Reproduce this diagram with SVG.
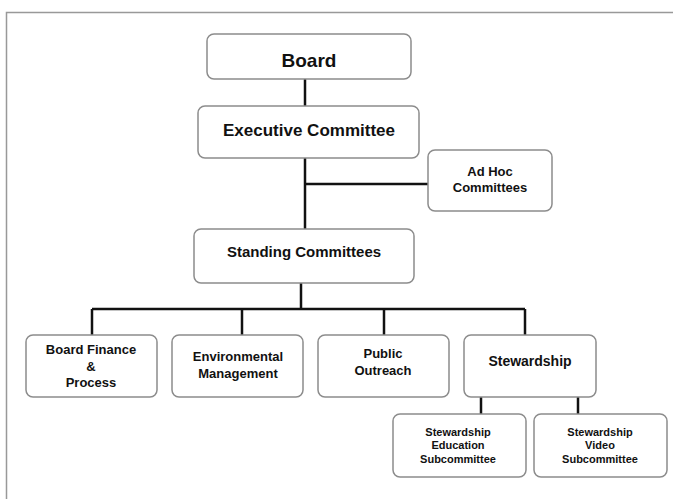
<svg xmlns="http://www.w3.org/2000/svg" width="673" height="499" viewBox="0 0 673 499">
<style>
.box{fill:#fff;stroke:#8c8c8c;stroke-width:1.5}
.t{font-family:"Liberation Sans",Arial,sans-serif;font-weight:bold;fill:#111;text-anchor:middle}
.c{stroke:#111;stroke-width:2.5;fill:none}
</style>
<rect width="673" height="499" fill="#fff"/>
<path d="M6.5 499 V12.5 H673" fill="none" stroke="#999" stroke-width="1.5"/>
<g id="connectors">
<path class="c" d="M305 79 V106"/>
<path class="c" d="M305 158 V229"/>
<path class="c" d="M305 184 H428"/>
<path class="c" d="M301 283 V309"/>
<path class="c" d="M92 309 H525"/>
<path class="c" d="M92 309 V335"/>
<path class="c" d="M242 309 V335"/>
<path class="c" d="M384 309 V335"/>
<path class="c" d="M525 309 V335"/>
<path class="c" d="M481 397 V414"/>
<path class="c" d="M578 397 V414"/>
</g>
<g id="board"><rect class="box" x="207" y="34" width="204" height="45" rx="7"/><text class="t" x="309" y="67" font-size="19">Board</text></g>
<g id="executive"><rect class="box" x="198" y="106" width="221" height="52" rx="7"/><text class="t" x="309" y="136" font-size="17">Executive Committee</text></g>
<g id="adhoc"><rect class="box" x="428" y="150" width="124" height="61" rx="7"/><text class="t" x="490" y="176" font-size="13">Ad Hoc</text><text class="t" x="490" y="192" font-size="13">Committees</text></g>
<g id="standing"><rect class="box" x="194" y="229" width="220" height="54" rx="7"/><text class="t" x="304" y="257" font-size="15">Standing Committees</text></g>
<g id="finance"><rect class="box" x="26" y="335" width="131" height="62" rx="7"/><text class="t" x="91" y="354" font-size="13">Board Finance</text><text class="t" x="91" y="371" font-size="13">&amp;</text><text class="t" x="91" y="387" font-size="13">Process</text></g>
<g id="environmental"><rect class="box" x="172" y="335" width="131" height="62" rx="7"/><text class="t" x="238" y="361" font-size="13">Environmental</text><text class="t" x="238" y="378" font-size="13">Management</text></g>
<g id="public"><rect class="box" x="318" y="335" width="131" height="62" rx="7"/><text class="t" x="383" y="358" font-size="13">Public</text><text class="t" x="383" y="375" font-size="13">Outreach</text></g>
<g id="stewardship"><rect class="box" x="464" y="335" width="132" height="62" rx="7"/><text class="t" x="530" y="366" font-size="14">Stewardship</text></g>
<g id="education"><rect class="box" x="393" y="414" width="133" height="63" rx="7"/><text class="t" x="458" y="436" font-size="11">Stewardship</text><text class="t" x="458" y="449" font-size="11">Education</text><text class="t" x="458" y="463" font-size="11">Subcommittee</text></g>
<g id="video"><rect class="box" x="534" y="414" width="133" height="63" rx="7"/><text class="t" x="600" y="436" font-size="11">Stewardship</text><text class="t" x="600" y="449" font-size="11">Video</text><text class="t" x="600" y="463" font-size="11">Subcommittee</text></g>
</svg>
